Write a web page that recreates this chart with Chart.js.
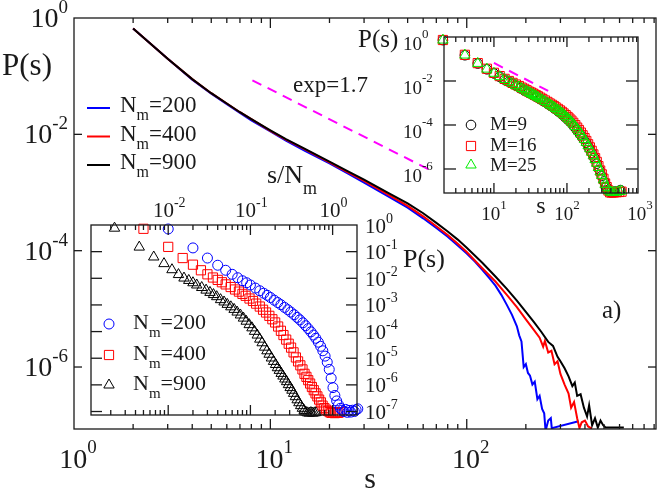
<!DOCTYPE html>
<html lang="en">
<head>
<meta charset="UTF-8">
<title>P(s) distributions</title>
<script src="https://cdn.jsdelivr.net/npm/chart.js"></script>
<style>
  body { margin: 0; background: #fff; }
  #wrap { position: relative; width: 666px; height: 491px; }
  #wrap canvas { position: absolute; left: 0; top: 0; }
</style>
</head>
<body>
<div id="wrap">
  <canvas id="main" width="666" height="491"></canvas>
  <canvas id="inset1" width="666" height="491"></canvas>
  <canvas id="inset2" width="666" height="491"></canvas>
</div>
<script>
// ---- main plot: P(s) vs s, lines
const sMain200 = [2,3,4,5,6,7,8,10,12,15,20,25,30,40,50,60,70,80,90,100,110,120,130,140,150,160,170,180,185,190,195,200,205,210,216,222,229,235,242,248,252,260,268,271,371];
const pMain200 = [0.66,0.2,0.087,0.05,0.0331,0.0234,0.0174,0.0112,0.0078,0.0052,0.00316,0.00209,0.00148,8.5e-4,5.5e-4,3.6e-4,2.45e-4,1.74e-4,1.23e-4,8.9e-5,6.5e-5,4.7e-5,3.4e-5,2.5e-5,1.74e-5,1.17e-5,7.9e-6,5.0e-6,3.5e-6,2.75e-6,1.0e-6,1.12e-6,7.9e-7,7.1e-7,5.0e-7,5.6e-7,2.8e-7,3.2e-7,1.9e-7,1.6e-7,8.0e-8,1.2e-7,1.32e-7,8.9e-8,1.17e-7];
const sMain400 = [2,3,4,5,6,7,8,10,12,15,20,25,30,40,50,60,70,80,90,100,120,140,160,180,200,220,235,245,250,260,270,280,290,300,315,330,340,352,365,375,385,400,415,434];
const pMain400 = [0.66,0.2,0.089,0.051,0.0339,0.024,0.0182,0.0115,0.0081,0.0055,0.0033,0.0022,0.00158,9.1e-4,5.9e-4,3.9e-4,2.63e-4,1.86e-4,1.32e-4,9.5e-5,5.0e-5,2.95e-5,1.74e-5,1.07e-5,6.6e-6,4.3e-6,3.2e-6,2.24e-6,2.8e-6,1.78e-6,1.9e-6,1.12e-6,1.26e-6,7.6e-7,5.0e-7,3.5e-7,2.0e-7,2.5e-7,1.32e-7,8.9e-8,1.12e-7,1.2e-7,9.5e-8,8.7e-8];
const sMain900 = [2,3,4,5,6,7,8,10,12,15,20,25,30,40,50,60,70,80,90,100,120,140,160,180,200,220,240,260,275,290,300,315,330,345,355,365,380,395,410,420,435,450,465,480,495,509,631];
const pMain900 = [0.66,0.2,0.089,0.051,0.0339,0.024,0.0182,0.0117,0.0083,0.0056,0.0034,0.00229,0.00166,9.8e-4,6.5e-4,4.4e-4,3.0e-4,2.14e-4,1.55e-4,1.12e-4,6.2e-5,3.6e-5,2.2e-5,1.38e-5,8.9e-6,5.9e-6,4.0e-6,2.7e-6,2.3e-6,1.5e-6,1.26e-6,9.5e-7,6.9e-7,4.7e-7,5.4e-7,3.2e-7,3.4e-7,2.0e-7,1.41e-7,2.2e-7,1.0e-7,1.32e-7,9.1e-8,1.2e-7,1.0e-7,9.1e-8,9.1e-8];
const slopeS = [8.1, 65.5];
const slopeP = [0.085, 0.0024];

// ---- inset 1: P(s) vs s/N_m, markers
const nm = [200, 400, 900];
const sGrid1 = [2,4,6,8,10,12,14,16,18,20,23,26,29,32,35,39,43,47,52,57,62,68,74,80,87,94,101,109,117,125,134,143,152,162,172,182,192,202,213,224,236,248,261,274,288,302,317,333,350,368,386,405,425,446,468,490,515,540,565];
const p1N200 = [0.71,0.138,0.0575,0.0309,0.02,0.0141,0.0105,0.0081,0.0068,0.0056,
  0.0043,0.0034,0.00275,0.0023,0.0019,0.00151,0.00123,0.00102,8.1e-4,6.6e-4,
  5.4e-4,4.3e-4,3.4e-4,2.75e-4,2.14e-4,1.66e-4,1.29e-4,9.8e-5,7.4e-5,5.6e-5,
  4.0e-5,2.8e-5,1.9e-5,1.2e-5,7.1e-6,3.8e-6,1.78e-6,7.9e-7,4.0e-7,2.5e-7,
  1.78e-7,1.32e-7,1.12e-7,1.0e-7,1.2e-7,9.3e-8,1.1e-7,9.5e-8,1.12e-7,1.0e-7,
  1.17e-7,1.26e-7];
const p1N400 = [0.72,0.151,0.0575,0.0324,0.02,0.0141,0.0107,0.0087,0.0071,0.0059,
  0.0047,0.0038,0.00316,0.0026,0.0022,0.00174,0.00141,0.00112,8.7e-4,6.6e-4,
  5.2e-4,3.9e-4,2.9e-4,2.2e-4,1.55e-4,1.07e-4,7.4e-5,5.0e-5,3.5e-5,2.5e-5,
  1.66e-5,1.07e-5,7.6e-6,5.4e-6,3.8e-6,2.6e-6,2.0e-6,1.5e-6,1.12e-6,8.3e-7,
  6.3e-7,4.8e-7,3.7e-7,2.8e-7,2.2e-7,1.66e-7,1.35e-7,1.17e-7,1.05e-7,9.5e-8,
  8.9e-8,9.1e-8,8.7e-8,9.3e-8,8.9e-8,9.5e-8];
const p1N900 = [0.76,0.148,0.063,0.0355,0.021,0.0138,0.0102,0.0083,0.0068,0.0056,
  0.0045,0.0036,0.00295,0.00245,0.00204,0.00158,0.00129,0.00105,8.5e-4,6.8e-4,
  5.4e-4,4.2e-4,3.2e-4,2.45e-4,1.82e-4,1.38e-4,1.02e-4,7.4e-5,5.2e-5,3.8e-5,
  2.6e-5,1.9e-5,1.41e-5,1.02e-5,7.6e-6,5.8e-6,4.4e-6,3.5e-6,2.7e-6,2.14e-6,
  1.66e-6,1.32e-6,1.02e-6,7.9e-7,6.3e-7,4.8e-7,3.6e-7,2.75e-7,2.14e-7,1.66e-7,
  1.32e-7,1.1e-7,9.5e-8,8.9e-8,8.7e-8,9.1e-8,8.7e-8,8.9e-8,9.1e-8];

// ---- inset 2: P(s) vs s for M = 9, 16, 25
const s2 = [2,4,6,8,10,12,14,16,18,20,22,24,26,28,30,32,34,36,38,40,43,46,50,54,58,62,66,70,75,80,85,90,96,102,108,115,122,130,138,146,155,164,174,184,195,206,218,230,243,256,270,285,300,316,333,350,370,390,410,440,480,520,560];
const p2M25 = [0.724,0.151,0.0631,0.0347,0.0224,0.0158,0.0117,0.00933,0.00759,0.00631,
  0.00537,0.00457,0.00398,0.00347,0.00302,0.00269,0.0024,0.00219,0.002,0.00182,
  0.00158,0.00138,0.00117,0.001,8.5e-4,7.4e-4,6.5e-4,5.6e-4,4.8e-4,4.1e-4,
  3.5e-4,2.95e-4,2.45e-4,2.04e-4,1.7e-4,1.38e-4,1.1e-4,8.5e-5,6.6e-5,5.1e-5,
  3.9e-5,2.95e-5,2.2e-5,1.62e-5,1.15e-5,8.3e-6,5.8e-6,4.0e-6,2.7e-6,1.82e-6,
  1.17e-6,7.4e-7,5.0e-7,3.2e-7,2.0e-7,1.41e-7,1.05e-7,9.1e-8,8.7e-8,8.7e-8,
  8.9e-8,9.5e-8,1.0e-7];
const p2M16 = [0.73,0.155,0.065,0.036,0.0235,0.0167,0.0125,0.01,0.0082,0.0069,
  0.0059,0.005,0.0044,0.0038,0.0033,0.003,0.0027,0.0024,0.0022,0.002,
  0.00175,0.00153,0.0013,0.00112,9.5e-4,8.3e-4,7.3e-4,6.3e-4,5.4e-4,4.6e-4,
  3.95e-4,3.35e-4,2.8e-4,2.32e-4,1.95e-4,1.58e-4,1.26e-4,9.8e-5,7.6e-5,5.9e-5,
  4.5e-5,3.4e-5,2.55e-5,1.88e-5,1.33e-5,9.6e-6,6.7e-6,4.6e-6,3.1e-6,2.1e-6,
  1.35e-6,8.5e-7,5.7e-7,3.6e-7,2.2e-7,1.5e-7,1.05e-7,8.7e-8,8.5e-8,8.6e-8,
  8.8e-8,9.0e-8,9.3e-8];
const s2M9 = [2,4,6,8,10,12,14,16,18,20,23,26,30,34,38,43,48,54,60,67,75,83,92,102,113,125,138,152,167,183,200,218,237,257,278,300,322,345,370,400,450,540];
const p2M9 = [0.72,0.148,0.062,0.034,0.022,0.0155,0.0115,0.0092,0.0075,0.0062,0.0047,0.0037,0.0029,0.00235,0.0019,0.0015,0.0012,9.3e-4,7.4e-4,5.7e-4,4.3e-4,3.3e-4,2.45e-4,1.78e-4,1.28e-4,8.6e-5,5.7e-5,3.7e-5,2.4e-5,1.55e-5,9.2e-6,5.4e-6,3.2e-6,1.75e-6,9.2e-7,4.8e-7,2.7e-7,1.55e-7,1.0e-7,8.8e-8,9.5e-8,1.1e-7];
const slope2S = [10, 59];
const slope2P = [0.066, 0.0032];

// tick positions / labels
const decX = [1, 10, 100, 1000];
const minorX = [2,3,4,5,6,7,8,9,20,30,40,50,60,70,80,90,200,300,400,500,600,700,800,900];
const evenDecY = [1, 1e-2, 1e-4, 1e-6];
const evenDecExp = ['0', '-2', '-4', '-6'];
const allDecY = [1, 1e-1, 1e-2, 1e-3, 1e-4, 1e-5, 1e-6, 1e-7];
const allDecExp = ['0', '-1', '-2', '-3', '-4', '-5', '-6', '-7'];
const decX1 = [0.01, 0.1, 1];
const decX1Exp = ['-2', '-1', '0'];
const minorX1 = [0.002,0.003,0.004,0.005,0.006,0.007,0.008,0.009,0.02,0.03,0.04,0.05,0.06,0.07,0.08,0.09,0.2,0.3,0.4,0.5,0.6,0.7,0.8,0.9];

const FONT = '"Liberation Serif", "Times New Roman", serif';
const INK = '#1a1a1a';
const W = 666, H = 491;

const pts = (xs, ys) => ys.map((y, i) => ({x: xs[i], y: y}));

function drawRich(c, x, y, parts, align) {
    let w = 0;
    parts.forEach(p => { c.font = p[1] + 'px ' + FONT; w += c.measureText(p[0]).width; });
    let cx = x;
    if (align === 'center') cx = x - w / 2;
    if (align === 'right') cx = x - w;
    c.textAlign = 'left';
    c.textBaseline = 'alphabetic';
    parts.forEach(p => {
        c.font = p[1] + 'px ' + FONT;
        c.fillText(p[0], cx, y + (p[2] || 0));
        cx += c.measureText(p[0]).width;
    });
}

function makeDeco(cfg) {
    return {
        id: 'deco',
        beforeDatasetsDraw(chart) {
            if (!cfg.fill) return;
            const a = chart.chartArea, c = chart.ctx;
            c.save();
            c.fillStyle = '#fff';
            c.fillRect(a.left, a.top, a.right - a.left, a.bottom - a.top);
            c.restore();
        },
        afterDraw(chart) {
            const c = chart.ctx, a = chart.chartArea;
            const X = chart.scales.x, Y = chart.scales.y;
            c.save();
            c.strokeStyle = INK;
            c.fillStyle = INK;
            c.lineWidth = 1.3;
            c.strokeRect(a.left, a.top, a.right - a.left, a.bottom - a.top);
            const seg = (x1, y1, x2, y2) => { c.beginPath(); c.moveTo(x1, y1); c.lineTo(x2, y2); c.stroke(); };
            const xt = (vals, len) => vals.forEach(v => {
                const px = X.getPixelForValue(v);
                if (px <= a.left + 1 || px >= a.right - 1) return;
                seg(px, a.bottom, px, a.bottom - len);
                seg(px, a.top, px, a.top + len);
            });
            const yt = (vals, len) => vals.forEach(v => {
                const py = Y.getPixelForValue(v);
                if (py <= a.top + 1 || py >= a.bottom - 1) return;
                seg(a.left, py, a.left + len, py);
                seg(a.right, py, a.right - len, py);
            });
            xt(cfg.xMajor, cfg.xMajLen);
            xt(cfg.xMinor, cfg.xMinLen);
            yt(cfg.yMajor, cfg.yLen);

            const xl = cfg.xLabels;
            xl.vals.forEach((v, i) => {
                const px = X.getPixelForValue(v);
                drawRich(c, px + (xl.dx || 0), xl.y, [['10', xl.base, 0], [xl.exps[i], xl.sup, -xl.raise]], 'center');
            });
            const yl = cfg.yLabels;
            yl.vals.forEach((v, i) => {
                const py = Y.getPixelForValue(v);
                drawRich(c, yl.x, py + yl.dy, [['10', yl.base, 0], [yl.exps[i], yl.sup, -yl.raise]], yl.align);
            });
            (cfg.texts || []).forEach(t => drawRich(c, t.x, t.y, t.parts, t.align || 'left'));
            (cfg.legendLines || []).forEach(l => {
                c.strokeStyle = l.color;
                c.lineWidth = 2;
                seg(l.x1, l.y, l.x2, l.y);
            });
            (cfg.legendMarks || []).forEach(m => {
                c.strokeStyle = m.color;
                c.fillStyle = 'rgba(0,0,0,0)';
                c.lineWidth = 1;
                Chart.helpers.drawPoint(c, {pointStyle: m.style, rotation: 0, radius: m.r, borderWidth: 1}, m.x, m.y);
            });
            c.restore();
        }
    };
}

function logChart(id, area, xr, yr, datasets, cfg) {
    return new Chart(document.getElementById(id), {
        type: 'scatter',
        data: { datasets: datasets },
        options: {
            responsive: false,
            animation: false,
            layout: { padding: { left: area[0], top: area[1], right: W - area[2], bottom: H - area[3] } },
            plugins: { legend: { display: false }, tooltip: { enabled: false } },
            scales: {
                x: { type: 'logarithmic', min: xr[0], max: xr[1], display: false },
                y: { type: 'logarithmic', min: yr[0], max: yr[1], display: false }
            }
        },
        plugins: [makeDeco(cfg)]
    });
}

const lineSet = (data, color) => ({ data: data, showLine: true, borderColor: color, borderWidth: 2, pointRadius: 0 });
const markSet = (data, color, style, r) => ({ data: data, showLine: false, pointStyle: style, pointRadius: r,
    pointBorderColor: color, pointBackgroundColor: 'rgba(0,0,0,0)', pointBorderWidth: 1, clip: false });

// main
logChart('main', [74, 18, 656, 429], [1, 920], [8.6e-8, 1], [
    lineSet(pts(sMain900, pMain900), '#000000'),
    lineSet(pts(sMain400, pMain400), '#ff0000'),
    lineSet(pts(sMain200, pMain200), '#0000ff'),
    Object.assign(lineSet(pts(slopeS, slopeP), '#ff00ff'), { borderDash: [10, 7] })
], {
    xMajor: decX, xMinor: minorX, xMajLen: 10, xMinLen: 5,
    yMajor: evenDecY, yLen: 8,
    xLabels: { vals: [1, 10, 100], exps: ['0', '1', '2'], y: 468, base: 28, sup: 19, raise: 15, dx: 4 },
    yLabels: { vals: evenDecY, exps: evenDecExp, x: 68, align: 'right', dy: 9, base: 28, sup: 19, raise: 14 },
    texts: [
        { x: 2, y: 75, parts: [['P(s)', 31, 0]] },
        { x: 370, y: 488, parts: [['s', 30, 0]], align: 'center' },
        { x: 293, y: 92, parts: [['exp=1.7', 23, 0]] },
        { x: 602, y: 318, parts: [['a)', 25, 0]] },
        { x: 120, y: 112, parts: [['N', 23, 0], ['m', 16, 8], ['=200', 23, 0]] },
        { x: 120, y: 140.5, parts: [['N', 23, 0], ['m', 16, 8], ['=400', 23, 0]] },
        { x: 120, y: 169, parts: [['N', 23, 0], ['m', 16, 8], ['=900', 23, 0]] }
    ],
    legendLines: [
        { x1: 87, x2: 110, y: 108, color: '#0000ff' },
        { x1: 87, x2: 110, y: 136.5, color: '#ff0000' },
        { x1: 87, x2: 110, y: 165, color: '#000000' }
    ]
});

// inset 1
logChart('inset1', [91, 225, 357, 415], [1.15e-3, 1.98], [7.4e-8, 1], [
    markSet(pts(sGrid1.map(s => s / nm[0]), p1N200), '#0000ff', 'circle', 5),
    markSet(pts(sGrid1.map(s => s / nm[1]), p1N400), '#ff0000', 'rect', 6.5),
    markSet(pts(sGrid1.map(s => s / nm[2]), p1N900), '#000000', 'triangle', 6)
], {
    fill: true,
    xMajor: decX1, xMinor: minorX1, xMajLen: 10, xMinLen: 5,
    yMajor: allDecY, yLen: 11,
    xLabels: { vals: decX1, exps: decX1Exp, y: 217, base: 21, sup: 14, raise: 10, dx: 1 },
    yLabels: { vals: allDecY, exps: allDecExp, x: 365, align: 'left', dy: 7.5, base: 21, sup: 14, raise: 10 },
    texts: [
        { x: 267, y: 183, parts: [['s/N', 26, 0], ['m', 18, 11]] },
        { x: 403, y: 267, parts: [['P(s)', 26, 0]] },
        { x: 133, y: 329, parts: [['N', 22, 0], ['m', 15, 8], ['=200', 22, 0]] },
        { x: 133, y: 360, parts: [['N', 22, 0], ['m', 15, 8], ['=400', 22, 0]] },
        { x: 133, y: 390, parts: [['N', 22, 0], ['m', 15, 8], ['=900', 22, 0]] }
    ],
    legendMarks: [
        { x: 109, y: 324, style: 'circle', r: 5, color: '#0000ff' },
        { x: 109, y: 355, style: 'rect', r: 6.5, color: '#ff0000' },
        { x: 109, y: 385, style: 'triangle', r: 6, color: '#000000' }
    ]
});

// inset 2
logChart('inset2', [444, 37, 638, 193], [2.07, 940], [8.1e-8, 1], [
    markSet(pts(s2, p2M25), '#00ee00', 'triangle', 6),
    markSet(pts(s2, p2M16), '#ff0000', 'rect', 6.5),
    markSet(pts(s2M9, p2M9), '#000000', 'circle', 4.8),
    Object.assign(lineSet(pts(slope2S, slope2P), '#ff00ff'), { borderDash: [10, 7] })
], {
    fill: true,
    xMajor: decX, xMinor: minorX, xMajLen: 10, xMinLen: 5,
    yMajor: evenDecY, yLen: 12,
    xLabels: { vals: [10, 100, 1000], exps: ['1', '2', '3'], y: 220, base: 19, sup: 13, raise: 11, dx: 0 },
    yLabels: { vals: evenDecY, exps: evenDecExp, x: 403, align: 'left', dy: 13, base: 19, sup: 13, raise: 12 },
    texts: [
        { x: 358, y: 47, parts: [['P(s)', 25, 0]] },
        { x: 541, y: 213, parts: [['s', 24, 0]], align: 'center' },
        { x: 490, y: 130, parts: [['M=9', 19, 0]] },
        { x: 490, y: 151, parts: [['M=16', 19, 0]] },
        { x: 490, y: 171, parts: [['M=25', 19, 0]] }
    ],
    legendMarks: [
        { x: 471, y: 125, style: 'circle', r: 4.8, color: '#000000' },
        { x: 471, y: 146, style: 'rect', r: 6.5, color: '#ff0000' },
        { x: 471, y: 165, style: 'triangle', r: 6, color: '#00ee00' }
    ]
});
</script>
</body>
</html>
